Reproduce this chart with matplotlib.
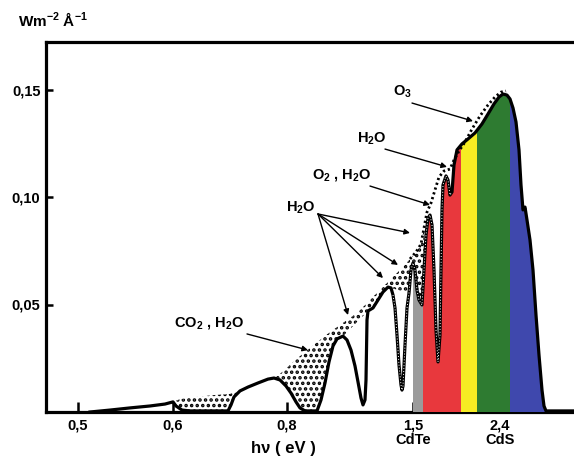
import numpy as np
import matplotlib
matplotlib.use("Agg")
import matplotlib.pyplot as plt
from matplotlib.patches import Polygon

plt.rcParams['font.family'] = ['Liberation Sans', 'DejaVu Sans']
plt.rcParams['font.weight'] = 'bold'
plt.rcParams['mathtext.fontset'] = 'custom'
plt.rcParams['mathtext.rm'] = 'Liberation Sans:bold'
plt.rcParams['mathtext.bf'] = 'Liberation Sans:bold'
plt.rcParams['mathtext.it'] = 'Liberation Sans:bold'
plt.rcParams['mathtext.default'] = 'bf'
plt.rcParams['hatch.linewidth'] = 1.7

# ---- data (x = position along the h-nu axis, y = W m^-2 A^-1) ----
# ground-level (AM1.5) spectrum outline
am15_x = [90, 110, 130, 150, 165, 173, 176, 182, 190, 228, 231, 234, 240, 248, 258, 268, 274, 280, 286,
          291, 296, 300, 305, 317, 321, 325, 329, 333, 337, 343, 347, 351, 355, 358, 361, 363, 365, 366,
          366.5, 367, 368, 373, 378, 383, 388, 391, 393, 395, 397, 399, 401, 402, 403, 405, 407, 409, 411,
          413, 415, 417, 419, 422, 424, 426, 428, 430, 432, 434, 436, 438, 440, 441, 442, 443, 446, 448,
          450, 452, 454, 457, 462, 468, 475, 482, 488, 494, 499, 503, 507, 510, 513, 516, 519, 521, 523,
          525, 527, 530, 533, 536, 539, 542, 544, 546, 574]
am15_y = [0.0000, 0.0009, 0.0019, 0.0028, 0.0037, 0.0047, 0.0028, 0.0009, 0.0005, 0.0005, 0.0033, 0.0070,
          0.0098, 0.0116, 0.0135, 0.0153, 0.0158, 0.0149, 0.0121, 0.0088, 0.0047, 0.0019, 0.0005, 0.0005,
          0.0056, 0.0135, 0.0233, 0.0307, 0.0340, 0.0353, 0.0335, 0.0288, 0.0214, 0.0140, 0.0065, 0.0033,
          0.0056, 0.0149, 0.0288, 0.0428, 0.0470, 0.0484, 0.0521, 0.0558, 0.0581, 0.0577, 0.0544, 0.0484,
          0.0358, 0.0219, 0.0126, 0.0102, 0.0121, 0.0312, 0.0484, 0.0553, 0.0660, 0.0693, 0.0660, 0.0567,
          0.0521, 0.0498, 0.0660, 0.0823, 0.0902, 0.0916, 0.0870, 0.0660, 0.0381, 0.0233, 0.0358, 0.0660,
          0.0940, 0.1056, 0.1098, 0.1079, 0.1009, 0.1023, 0.1149, 0.1219, 0.1247, 0.1270, 0.1298, 0.1340,
          0.1386, 0.1433, 0.1465, 0.1479, 0.1474, 0.1456, 0.1414, 0.1349, 0.1219, 0.1056, 0.0940, 0.0953,
          0.0893, 0.0800, 0.0660, 0.0451, 0.0265, 0.0102, 0.0028, 0.0005, 0.0005]

# extraterrestrial (AM0) envelope
am0_x = [173, 180, 195, 215, 230, 240, 250, 262, 274, 280, 290, 300, 310, 320, 330, 340, 350, 358, 366,
         374, 382, 390, 397, 404, 410, 416, 421, 424, 427, 431, 435, 439, 444, 450, 454, 459, 465, 472,
         480, 488, 495, 501, 506]
am0_y = [0.0047, 0.0060, 0.0070, 0.0079, 0.0084, 0.0100, 0.0119, 0.0142, 0.0158, 0.0177, 0.0219, 0.0260,
         0.0298, 0.0335, 0.0372, 0.0405, 0.0437, 0.0465, 0.0502, 0.0540, 0.0577, 0.0614, 0.0647, 0.0679,
         0.0712, 0.0744, 0.0781, 0.0856, 0.0930, 0.0972, 0.1033, 0.1093, 0.1121, 0.1130, 0.1172, 0.1214,
         0.1256, 0.1316, 0.1377, 0.1428, 0.1465, 0.1488, 0.1493]

# narrow absorption dips left blank (x ranges)
dip_ranges = [(343, 368), (391, 409)]

# coloured absorption bands of cells (x ranges)
band_edges = [413, 423, 461, 477, 510, 547]
band_colors = ['#9b9b9b', '#e8383d', '#f6ec23', '#2e7b31', '#3f48ad']

# axis ticks
xtick_pos = [78, 173, 287, 413, 500]
xtick_lab = ['0,5', '0,6', '0,8', '1,5\nCdTe', '2,4\nCdS']
ytick_pos = [0.05, 0.10, 0.15]
ytick_lab = ['0,05', '0,10', '0,15']

# annotations: (label, label x, label y, arrow start x, y, [arrow targets])
labels = [
    ('CO$_2$ , H$_2$O', 209, 0.0414, 247, 0.0363, [(308, 0.0288)]),
    ('H$_2$O', 301, 0.0949, 318, 0.0921, [(348, 0.0451), (383, 0.0623), (398, 0.0684), (410, 0.0833)]),
    ('O$_2$ , H$_2$O', 342, 0.1102, 370, 0.1051, [(430, 0.0963)]),
    ('H$_2$O', 372, 0.1270, 385, 0.1223, [(447, 0.1140)]),
    ('O$_3$', 402, 0.1488, 412, 0.1437, [(473, 0.1353)]),
]

# ---- figure ----
W, H = 574, 463
fig = plt.figure(figsize=(W / 100, H / 100), dpi=100)
ax = fig.add_axes([46 / W, (H - 412) / H, (W - 46) / W, 370 / H])
ax.set_xlim(46, 574)
ax.set_ylim(0, 370 / 2150)

x15 = np.array(am15_x, float)
y15 = np.array(am15_y, float)
x0 = np.array(am0_x, float)
y0 = np.array(am0_y, float)

# stippled region between AM0 and AM1.5 (left part)
m0 = x0 <= 424
m15 = (x15 >= 173) & (x15 <= 424)
poly_pts = list(zip(x0[m0], y0[m0])) + list(zip(x15[m15][::-1], y15[m15][::-1]))
st = Polygon(poly_pts, closed=True, facecolor='white', edgecolor='black', hatch='...', lw=0, zorder=1)
ax.add_patch(st)
for a, b in dip_ranges:
    m = (x15 >= a) & (x15 <= b)
    ax.fill(x15[m], y15[m], color='white', lw=0, zorder=2)

# coloured bands clipped by the AM1.5 curve
clip = Polygon(list(zip(x15, y15)) + [(574, 0), (90, 0)], closed=True, transform=ax.transData,
               facecolor='none', edgecolor='none')
ax.add_patch(clip)
for i, c in enumerate(band_colors):
    r = ax.axvspan(band_edges[i], band_edges[i + 1], color=c, lw=0, zorder=3)
    r.set_clip_path(clip)

# AM1.5 outline
ax.plot(x15, y15, color='black', lw=2.3, zorder=5, solid_joinstyle='round')
mch = (x15 >= 393) & (x15 <= 452)
ax.plot(x15[mch], y15[mch], color='white', lw=0.7, ls=(0, (1, 2)), zorder=6)

# AM0 dotted envelope (right part)
me = x0 >= 410
ax.plot(x0[me], y0[me], color='black', lw=2.0, ls=(0, (0.8, 1.0)), zorder=4)

# labels and arrows
for txt, tx, ty, sx, sy, targets in labels:
    ax.text(tx, ty, txt, ha='center', va='center', fontsize=10.5, fontweight='bold', zorder=7)
    for (ex, ey) in targets:
        ax.annotate('', xy=(ex, ey), xytext=(sx, sy),
                    arrowprops=dict(arrowstyle='-|>', color='black', lw=1.0, mutation_scale=8,
                                    shrinkA=0, shrinkB=0), zorder=7)

# axes styling
for s in ['left', 'top', 'bottom']:
    ax.spines[s].set_linewidth(2.3)
ax.spines['right'].set_visible(False)
ax.set_xticks(xtick_pos)
ax.set_xticklabels(xtick_lab, fontsize=10.5, fontweight='bold', linespacing=1.0)
ax.set_yticks(ytick_pos)
ax.set_yticklabels(ytick_lab, fontsize=10.5, fontweight='bold')
ax.tick_params(axis='x', direction='in', length=7, width=1.8, pad=5)
ax.tick_params(axis='y', direction='in', length=5, width=1.8, pad=4)

fig.text(53 / W, 1 - 20 / H, 'Wm$^{-2}$ Å$^{-1}$', ha='center', va='center', fontsize=11, fontweight='bold')
fig.text(283 / W, 1 - 449 / H, 'h\u03bd ( eV )', ha='center', va='center', fontsize=12, fontweight='bold')

fig.savefig('out.png', dpi=100, facecolor='white')
